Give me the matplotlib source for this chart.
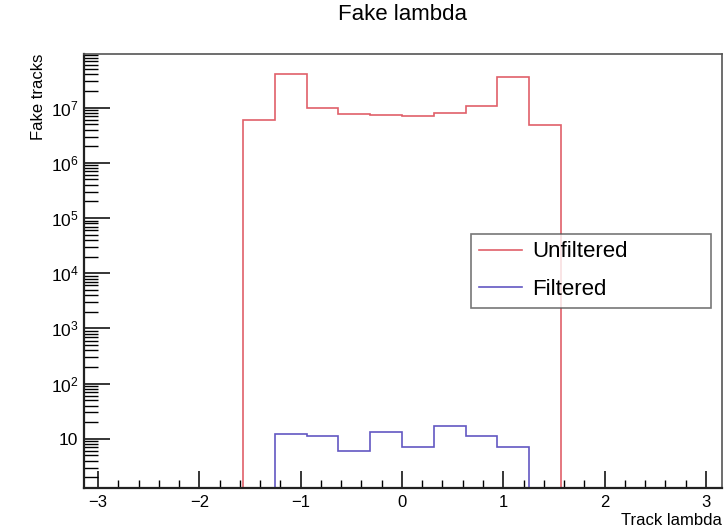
import numpy as np
import matplotlib.pyplot as plt
from matplotlib.ticker import FixedLocator, NullFormatter

plt.rcParams['font.family'] = ['Liberation Sans', 'DejaVu Sans']
plt.rcParams['mathtext.fontset'] = 'custom'
plt.rcParams['mathtext.rm'] = 'Liberation Sans'
plt.rcParams['mathtext.it'] = 'Liberation Sans'

# ---------------- DATA ----------------
# 20 bins of width pi/10 spanning [-pi, pi]
n_bins = 20
edges = np.linspace(-np.pi, np.pi, n_bins + 1)

unfiltered = [0, 0, 0, 0, 0,
              5.9e6, 4.1e7, 1.0e7, 7.7e6, 7.3e6,
              7.2e6, 7.9e6, 1.07e7, 3.6e7, 4.9e6,
              0, 0, 0, 0, 0]
filtered = [0, 0, 0, 0, 0,
            0, 12, 11, 6, 13,
            7, 17, 11, 7, 0,
            0, 0, 0, 0, 0]

y_major = [10, 1e2, 1e3, 1e4, 1e5, 1e6, 1e7]
y_labels = ["10", r"$10^{2}$", r"$10^{3}$", r"$10^{4}$", r"$10^{5}$", r"$10^{6}$", r"$10^{7}$"]

col_red = '#e0606a'
col_blue = '#6257c2'

# ---------------- PLOT ----------------
fig = plt.figure(figsize=(7.26, 5.28), dpi=100)
ax = fig.add_axes([0.1157, 0.0758, 0.8788, 0.8219])

ymin, ymax = 1.28, 9.4e7
floor = 1e-3  # empty bins drawn below the axis
red_vals = np.where(np.array(unfiltered) > 0, unfiltered, floor)
blue_vals = np.where(np.array(filtered) > 0, filtered, floor)

ax.stairs(red_vals, edges, color=col_red, lw=1.2, label="Unfiltered", baseline=None)
ax.stairs(blue_vals, edges, color=col_blue, lw=1.2, label="Filtered", baseline=None)

ax.set_yscale('log')
ax.set_xlim(-3.14, 3.16)
ax.set_ylim(ymin, ymax)

# y ticks (ROOT style, inward, left only)
ax.yaxis.set_major_locator(FixedLocator(y_major))
ax.set_yticklabels(y_labels)
minor = [m * 10 ** d for d in range(0, 8) for m in range(2, 10)]
ax.yaxis.set_minor_locator(FixedLocator(minor))
ax.yaxis.set_minor_formatter(NullFormatter())
ax.tick_params(axis='y', which='major', direction='in', length=19, width=1.1, labelsize=12.5, pad=4)
ax.tick_params(axis='y', which='minor', direction='in', length=10, width=1.0)

# x ticks
ax.set_xticks([-3, -2, -1, 0, 1, 2, 3])
ax.set_xticklabels(["\u22123", "\u22122", "\u22121", "0", "1", "2", "3"])
ax.set_xticks(np.arange(-3.0, 3.01, 0.2), minor=True)
ax.tick_params(axis='x', which='major', direction='in', length=12, width=1.1, labelsize=12, pad=5)
ax.tick_params(axis='x', which='minor', direction='in', length=6, width=1.0)

for s in ['left', 'bottom']:
    ax.spines[s].set_linewidth(1.6)
    ax.spines[s].set_color('#222222')
for s in ['top', 'right']:
    ax.spines[s].set_linewidth(1.2)
    ax.spines[s].set_color('#555555')

fig.text(0.555, 0.972, "Fake lambda", ha='center', va='center', fontsize=16)
ax.set_ylabel("Fake tracks", fontsize=12, loc='top', labelpad=3)
ax.set_xlabel("Track lambda", fontsize=12, loc='right', labelpad=2)

leg = ax.legend(loc='lower left', bbox_to_anchor=(0.607, 0.415, 0.376, 0.189), mode='expand',
                fontsize=16, frameon=True, fancybox=False, handlelength=1.95,
                handletextpad=0.45, borderaxespad=0, labelspacing=0.75, borderpad=0.35)
leg.get_frame().set_edgecolor('#555555')
leg.get_frame().set_linewidth(1.2)

fig.savefig("out.png", dpi=100)
